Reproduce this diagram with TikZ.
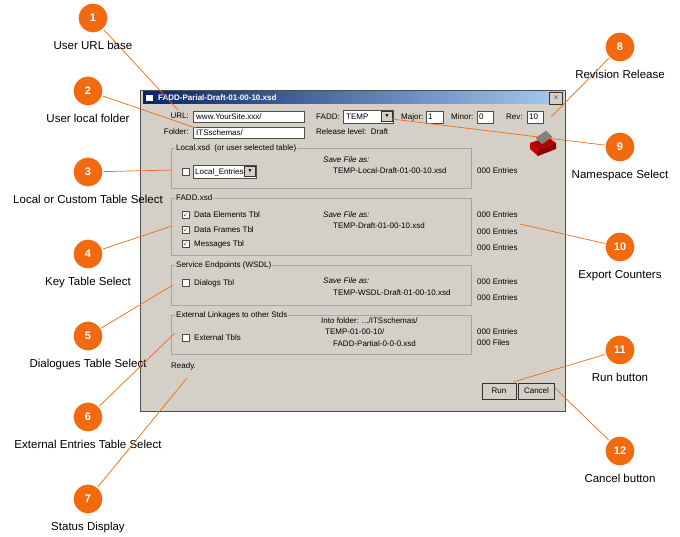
\documentclass[tikz,border=0pt]{standalone}
\usepackage{amssymb}
\usepackage{fontspec}
\setmainfont{Liberation Sans}
\usetikzlibrary{positioning}
\definecolor{winGray}{HTML}{D4D0C8}
\definecolor{callOrange}{HTML}{F26A10}
\definecolor{titleBlue}{HTML}{0A246A}
\definecolor{titleLight}{HTML}{A6CAF0}
\tikzset{
	every callout/.style={
		circle,
		fill=callOrange,
		draw=white,
		line width=1.2pt,
		minimum size=30pt,
		inner sep=0pt,
		text=white,
		font=\fontsize{11}{12}\selectfont\bfseries
	},
	callout label/.style={
		font=\fontsize{11.5}{13}\selectfont
	},
	leader/.style={
		draw=callOrange,
		line width=0.7pt
	},
	dlg/.style={
		font=\fontsize{8}{9}\selectfont,
		inner sep=0pt,
		anchor=west
	},
	field/.style={
		draw=gray!60!black,
		fill=white
	},
	group box/.style={
		draw=gray!70,
		line width=0.5pt
	},
	chk/.style={
		draw=gray!60!black,
		fill=white,
		minimum size=7pt,
		inner sep=0pt
	},
	btn/.style={
		draw=gray!40!black,
		fill=winGray,
		minimum width=34pt,
		minimum height=16pt,
		font=\fontsize{8}{9}\selectfont
	},
}

\begin{document}
\begin{tikzpicture}[x=1pt, y=-1pt]

\useasboundingbox (0,0) rectangle (680,537);

% window
\fill [winGray] (140,90) rectangle (565,411);
\draw [gray!60!black] (140,90) rectangle (565,411);
\shade [left color=titleBlue, right color=titleLight] (143,92) rectangle (562,104);
\node [dlg, text=white, font=\fontsize{8}{9}\selectfont\bfseries] (title) at (158,98) {FADD-Parial-Draft-01-00-10.xsd};
\fill [white] (146,95) rectangle (153,101);
\node [btn, minimum width=10pt, minimum height=8pt, font=\fontsize{7}{7}\selectfont\bfseries] (close) at (556,98) {$\times$};

% header fields
\draw [field] (193,111) rectangle (304,122);
\draw [field] (193,127) rectangle (304,138);
\node [dlg, anchor=east] (url) at (189,116) {URL:};
\node [dlg] at (196,117) {www.YourSite.xxx/};
\node [dlg, anchor=east] (folder) at (189,132) {Folder:};
\node [dlg] at (196,133) {ITSschemas/};
\node [dlg, anchor=east] at (340,117) {FADD:};
\draw [field] (343,110) rectangle (393,123);
\node [dlg] at (346,117) {TEMP};
\node [btn, minimum width=9pt, minimum height=10pt, font=\fontsize{5}{5}\selectfont] (fadd) at (387,116.5) {$\blacktriangledown$};
\node [dlg] at (401,117) {Major:};
\draw [field] (426,111) rectangle (443,123);
\node [dlg] at (428,117) {1};
\node [dlg] at (451,117) {Minor:};
\draw [field] (477,111) rectangle (493,123);
\node [dlg] at (479,117) {0};
\node [dlg] at (506,117) {Rev:};
\draw [field] (527,111) rectangle (543,123);
\node [dlg] at (529,117) {10};
\node [dlg] at (316,132) {Release level:\ \ Draft};

% printer icon
\fill [red!70!black] (530,143) -- (548,137) -- (556,143) -- (538,150) -- cycle;
\fill [red!80!black] (530,143) -- (538,150) -- (538,156) -- (530,149) -- cycle;
\fill [red!55!black] (538,150) -- (556,143) -- (556,149) -- (538,156) -- cycle;
\draw [fill=white, gray] (536,138) -- (546,131) -- (552,137) -- (542,144) -- cycle;

% groups
\foreach \t/\b/\l [count=\i] in {148/188/Local.xsd\ \ (or user selected table),
		198/255/FADD.xsd, 265/305/Service Endpoints (WSDL),
		315/354/External Linkages to other Stds}{
	\draw [group box] (171,\t) rectangle (471,\b);
	\node [dlg, fill=winGray, inner xsep=1pt] (group-\i) at (175,\t) {\l};
}

\node [chk] (chk-local) at (186,172) {};
\draw [field] (193,165) rectangle (256,178);
\node [dlg] at (195,172) {Local\_Entries};
\node [btn, minimum width=9pt, minimum height=10pt, font=\fontsize{5}{5}\selectfont] at (250,171.5) {$\blacktriangledown$};

\foreach \y/\l in {215/Data Elements Tbl, 230/Data Frames Tbl, 244/Messages Tbl}{
	\node [chk] at (186,\y) {\tiny\bfseries$\checkmark$};
	\node [dlg] at (194,\y) {\l};
}
\node [chk] (chk-dialogs) at (186,283) {};
\node [dlg] at (194,283) {Dialogs Tbl};
\node [chk] (chk-external) at (186,338) {};
\node [dlg] at (194,338) {External Tbls};

\foreach \y/\l in {160/Save File as:, 215/Save File as:, 281/Save File as:}
	\node [dlg, font=\fontsize{8}{9}\selectfont\itshape] at (323,\y) {\l};
\foreach \x/\y/\l in {333/171/TEMP-Local-Draft-01-00-10.xsd, 333/226/TEMP-Draft-01-00-10.xsd,
		333/293/TEMP-WSDL-Draft-01-00-10.xsd, 333/344/FADD-Partial-0-0-0.xsd}
	\node [dlg] at (\x,\y) {\l};
\node [dlg] (into) at (321,321) {Into folder: .../ITSschemas/};
\node [dlg] (temp-folder) at (325,332) {TEMP-01-00-10/};

\foreach \y/\l [count=\i] in {171/000 Entries, 215/000 Entries, 232/000 Entries, 248/000 Entries,
		282/000 Entries, 298/000 Entries, 332/000 Entries, 343/000 Files}
	\node [dlg] (count-\i) at (477,\y) {\l};

\node [dlg] (status) at (171,366) {Ready.};
\node [btn] (run) at (499,391) {Run};
\node [btn, minimum width=36pt] (cancel) at (536.5,391) {Cancel};

% leader ends
\coordinate (end-1) at (178,110);
\coordinate (end-2) at (196,128);
\coordinate (end-3) at (172,170);
\coordinate (end-4) at (172,226);
\coordinate (end-5) at (173,285);
\coordinate (end-6) at (175,333);
\coordinate (end-7) at (187,378);
\coordinate (end-8) at (551,117);
\coordinate (end-9) at (392,119);
\coordinate (end-10) at (520,224);
\coordinate (end-11) at (513,382);
\coordinate (end-12) at (555,388);

% callouts
\foreach \n/\x/\y/\l in {1/93/18/User URL base, 2/88/91/User local folder,
		3/88/172/Local or Custom Table Select, 4/88/254/Key Table Select,
		5/88/336/Dialogues Table Select, 6/88/417/External Entries Table Select,
		7/88/499/Status Display, 8/620/47/Revision Release,
		9/620/147/Namespace Select, 10/620/247/Export Counters,
		11/620/350/Run button, 12/620/451/Cancel button}{
	\draw [leader] (\x,\y) -- (end-\n);
	\node [every callout] (callout-\n) at (\x,\y) {\n};
	\node [callout label, below=4pt of callout-\n] (label-\n) {\l};
}

\end{tikzpicture}
\end{document}
